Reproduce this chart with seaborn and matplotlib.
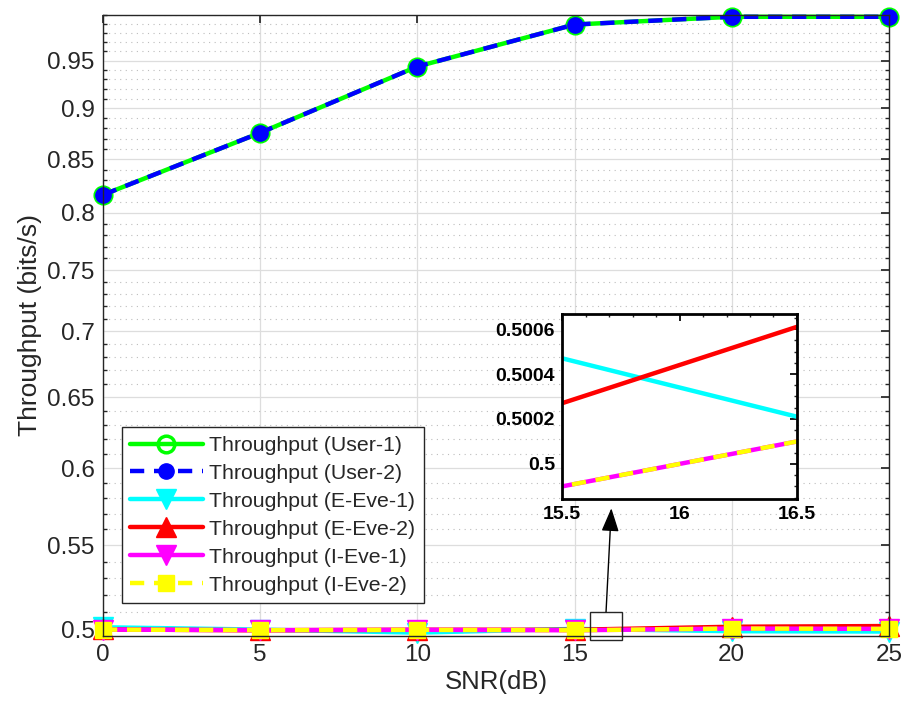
import numpy as np
import pandas as pd
import matplotlib
matplotlib.use("Agg")
import matplotlib.pyplot as plt
import seaborn as sns
from matplotlib.ticker import FixedLocator, FixedFormatter, NullFormatter
from matplotlib.patches import Rectangle

sns.set_theme(style="white")
plt.rcParams['font.family'] = ['Liberation Sans', 'DejaVu Sans']

# ---------------- data ----------------
snr = [0, 5, 10, 15, 20, 25]
user1 = [0.8165, 0.8757, 0.9436, 0.9893, 0.9980, 0.9980]
user2 = [0.8165, 0.8757, 0.9436, 0.9893, 0.9980, 0.9980]
e_eve1 = [0.5015, 0.5002, 0.4985, 0.50060, 0.49930, 0.4991]
e_eve2 = [0.5003, 0.4998, 0.5001, 0.50010, 0.50180, 0.5022]
i_eve1 = [0.5002, 0.4999, 0.5001, 0.49980, 0.50080, 0.5006]
i_eve2 = [0.5002, 0.4999, 0.5001, 0.49980, 0.50080, 0.5006]

series_names = ["Throughput (User-1)", "Throughput (User-2)", "Throughput (E-Eve-1)",
                "Throughput (E-Eve-2)", "Throughput (I-Eve-1)", "Throughput (I-Eve-2)"]
series_vals = [user1, user2, e_eve1, e_eve2, i_eve1, i_eve2]

yticks = [0.5, 0.55, 0.6, 0.65, 0.7, 0.75, 0.8, 0.85, 0.9, 0.95]
ytick_labels = ["0.5", "0.55", "0.6", "0.65", "0.7", "0.75", "0.8", "0.85", "0.9", "0.95"]
xticks = [0, 5, 10, 15, 20, 25]

inset_xticks = [15.5, 16, 16.5]
inset_xlabels = ["15.5", "16", "16.5"]
inset_yticks = [0.5, 0.5002, 0.5004, 0.5006]
inset_ylabels = ["0.5", "0.5002", "0.5004", "0.5006"]

# ---------------- styles ----------------
styles = [
    dict(color="#00ff00", marker="o", linestyle="-", mfc="none", mec="#00ff00", ms=12, mew=2.5, lw=3.2, dashes=None),
    dict(color="#0000ff", marker="o", linestyle="--", mfc="#0000ff", mec="#0000ff", ms=11, mew=1, lw=3.2, dashes=(3.2, 2.2)),
    dict(color="#00ffff", marker="v", linestyle="-", mfc="#00ffff", mec="#00ffff", ms=14, mew=1, lw=3.2, dashes=None),
    dict(color="#ff0000", marker="^", linestyle="-", mfc="#ff0000", mec="#ff0000", ms=14, mew=1, lw=3.2, dashes=None),
    dict(color="#ff00ff", marker="v", linestyle="-", mfc="#ff00ff", mec="#ff00ff", ms=14, mew=1, lw=3.2, dashes=None),
    dict(color="#ffff00", marker="s", linestyle="--", mfc="#ffff00", mec="#ffff00", ms=12, mew=1, lw=3.2, dashes=(3.2, 2.2)),
]

fig = plt.figure(figsize=(9.01, 7.13), dpi=100)
ax = fig.add_axes([103/901, (713-636)/713, 786/901, 621/713])

for name, vals, st in zip(series_names, series_vals, styles):
    df = pd.DataFrame({"SNR": snr, "val": vals})
    sns.lineplot(data=df, x="SNR", y="val", ax=ax, color=st["color"], marker=st["marker"],
                 linestyle=st["linestyle"], markerfacecolor=st["mfc"], markeredgecolor=st["mec"],
                 markersize=st["ms"], markeredgewidth=st["mew"], linewidth=st["lw"],
                 label=name, clip_on=False)
    line = ax.get_lines()[-1]
    if st["dashes"] is not None:
        line.set_dashes(st["dashes"])

ax.set_yscale("log")
ax.set_xlim(0, 25)
ax.set_ylim(0.4966, 1.0)
ax.yaxis.set_major_locator(FixedLocator(yticks))
ax.yaxis.set_major_formatter(FixedFormatter(ytick_labels))
minor = [round(0.50 + 0.01 * i, 2) for i in range(51)]
minor = [m for m in minor if all(abs(m - t) > 1e-9 for t in yticks)]
ax.yaxis.set_minor_locator(FixedLocator(minor))
ax.yaxis.set_minor_formatter(NullFormatter())
ax.set_xticks(xticks)
ax.set_xticklabels([str(x) for x in xticks])

ax.grid(True, which="major", axis="both", color="#dddddd", linewidth=0.9, linestyle="-")
ax.grid(True, which="minor", axis="y", color="#bdbdbd", linewidth=0.8, linestyle=(0, (1, 4)))
ax.set_axisbelow(True)

ax.tick_params(axis="both", which="major", direction="in", labelsize=17.5, length=6,
               top=True, right=True, colors="#262626", pad=6)
ax.tick_params(axis="y", which="minor", direction="in", length=3, right=True, left=True, colors="#262626")
for sp in ax.spines.values():
    sp.set_color("#262626")
    sp.set_linewidth(1.0)

ax.set_xlabel("SNR(dB)", fontsize=18.5, color="#262626", labelpad=3)
ax.set_ylabel("Throughput (bits/s)", fontsize=19, color="#262626", labelpad=4)

leg = ax.legend(loc="lower left", bbox_to_anchor=(0.024, 0.053), borderaxespad=0,
                fontsize=15.3, frameon=True, fancybox=False, edgecolor="#262626",
                handlelength=3.4, labelspacing=0.42, borderpad=0.4, handletextpad=0.3)
leg.get_frame().set_linewidth(1.0)
leg.get_frame().set_alpha(1)

# zoom rectangle on main axes
rect = Rectangle((15.5, 0.4944), 1.0, 0.5103 - 0.4944, fill=False, edgecolor="#262626",
                 linewidth=1.0, clip_on=False, zorder=10)
ax.add_patch(rect)

# ---------------- inset ----------------
ins = fig.add_axes([562/901, (713-499)/713, 235/901, 185/713])
for name, vals, st in zip(series_names[2:], series_vals[2:], styles[2:]):
    df = pd.DataFrame({"SNR": snr, "val": vals})
    sns.lineplot(data=df, x="SNR", y="val", ax=ins, color=st["color"], linestyle=st["linestyle"],
                 linewidth=3.2, legend=False)
    line = ins.get_lines()[-1]
    if st["dashes"] is not None:
        line.set_dashes(st["dashes"])
ins.set_xlim(15.5, 16.5)
ins.set_ylim(0.499844, 0.500667)
ins.set_xticks(inset_xticks)
ins.set_xticklabels(inset_xlabels)
ins.set_yticks(inset_yticks)
ins.set_yticklabels(inset_ylabels)
ins.set_xlabel("")
ins.set_ylabel("")
ins.minorticks_on()
ins.tick_params(axis="both", which="major", direction="in", labelsize=14, length=5,
                top=True, right=True, colors="black", pad=5)
ins.tick_params(axis="both", which="minor", direction="in", length=2.5, top=True, right=True)
for lab in ins.get_xticklabels() + ins.get_yticklabels():
    lab.set_fontweight("bold")
for sp in ins.spines.values():
    sp.set_color("black")
    sp.set_linewidth(2.0)
ins.set_facecolor("white")
ins.grid(False)

# arrow from rectangle to inset
ax.annotate("", xy=(0.21, -0.05), xycoords=ins.transAxes,
            xytext=(16.0, 0.5103), textcoords="data",
            arrowprops=dict(arrowstyle="-|>,head_length=1.2,head_width=0.45", color="black",
                            lw=1.0, shrinkA=0, shrinkB=0), zorder=11)

fig.savefig("out.png", dpi=100)
